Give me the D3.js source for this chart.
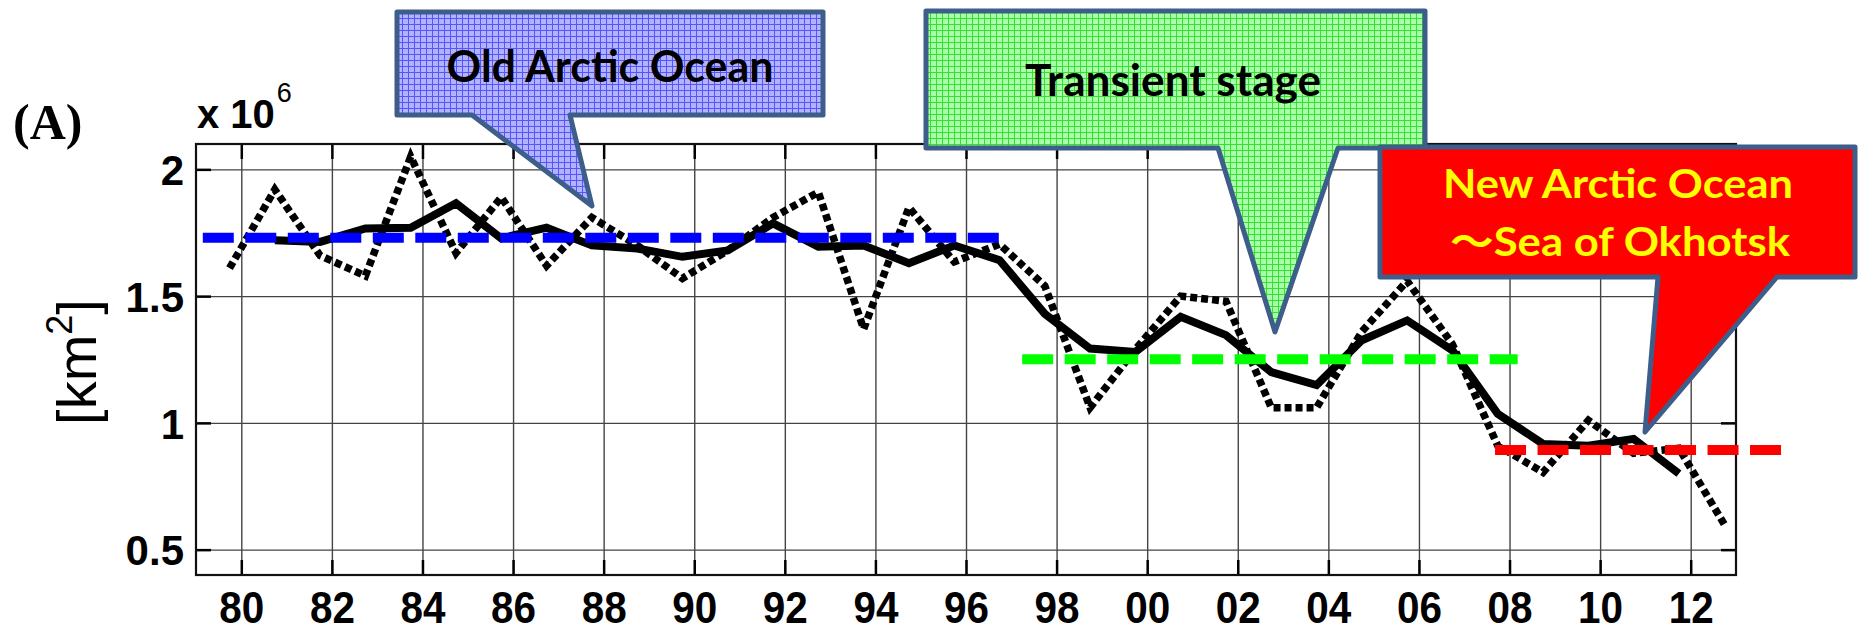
<!DOCTYPE html>
<html>
<head>
<meta charset="utf-8">
<script src="https://cdn.jsdelivr.net/npm/d3@7"></script>
<style>
  body { margin: 0; background: #fff; }
  svg { display: block; }
</style>
</head>
<body>
<script>
var w = 1862;
var h = 636;
var margin = {top: 144, right: 126, bottom: 61, left: 196};

// annual values, x 10^6 km2
var years = [1980, 1981, 1982, 1983, 1984, 1985, 1986, 1987, 1988, 1989,
             1990, 1991, 1992, 1993, 1994, 1995, 1996, 1997, 1998, 1999,
             2000, 2001, 2002, 2003, 2004, 2005, 2006, 2007, 2008, 2009,
             2010, 2011, 2012, 2013];
var annual = [1.61, 1.92, 1.66, 1.58, 2.05, 1.67, 1.89, 1.62, 1.81, 1.70,
              1.57, 1.68, 1.81, 1.91, 1.37, 1.85, 1.635, 1.705, 1.54, 1.06,
              1.29, 1.50, 1.48, 1.06, 1.06, 1.36, 1.56, 1.31, 0.91, 0.805,
              1.01, 0.88, 0.90, 0.60];

// 3-year running mean, as drawn
var meanYears = [1981, 1982, 1983, 1984, 1985, 1986, 1987, 1988, 1989, 1990,
                 1991, 1992, 1993, 1994, 1995, 1996, 1997, 1998, 1999, 2000,
                 2001, 2002, 2003, 2004, 2005, 2006, 2007, 2008, 2009, 2010,
                 2011, 2012];
var runMean = [1.72, 1.714, 1.767, 1.77, 1.866, 1.728, 1.77, 1.70, 1.688, 1.655,
               1.68, 1.787, 1.695, 1.70, 1.63, 1.70, 1.642, 1.43, 1.293, 1.28,
               1.418, 1.346, 1.20, 1.149, 1.326, 1.404, 1.286, 1.036, 0.917, 0.91,
               0.937, 0.80];

// stage means (old / transient / new)
var stageStart = [1979.15, 1997.24, 2007.68];
var stageEnd = [1996.8, 2008.18, 2014.03];
var stageMean = [1.73, 1.251, 0.893];

var xTicks = [1980, 1982, 1984, 1986, 1988, 1990, 1992, 1994, 1996,
              1998, 2000, 2002, 2004, 2006, 2008, 2010, 2012];
var yTicks = [0.5, 1, 1.5, 2];

var stageColor = ["#0000ff", "#00ff00", "#ff0000"];
// the annual points sit a bit left of the year line in the original
var shift = -0.26;

var pw = w - margin.left - margin.right;
var ph = h - margin.top - margin.bottom;

var x = d3.scaleLinear().domain([1979, 2013]).range([0, pw]);
var y = d3.scaleLinear().domain([0.4, 2.1]).range([ph, 0]);

var svg = d3.select("body").append("svg").attr("width", w).attr("height", h);
svg.append("rect").attr("width", w).attr("height", h).attr("fill", "#fff");

var defs = svg.append("defs");
function hatch(id, base, line) {
  var p = defs.append("pattern").attr("id", id)
    .attr("patternUnits", "userSpaceOnUse").attr("width", 6).attr("height", 6);
  p.append("rect").attr("width", 6).attr("height", 6).attr("fill", base);
  p.append("path").attr("d", "M0,0.5H6M0.5,0V6")
    .attr("stroke", line).attr("stroke-width", 1).attr("fill", "none");
}
hatch("blueHatch", "#b2b2ff", "#5555ff");
hatch("greenHatch", "#a8ffa8", "#33e033");

var g = svg.append("g").attr("transform", "translate(" + margin.left + "," + margin.top + ")");

// grid
g.append("g").attr("class", "grid")
  .call(d3.axisBottom(x).tickValues(xTicks).tickSize(ph).tickFormat(""))
  .call(function(s) { s.select(".domain").remove(); })
  .selectAll("line").attr("stroke", "#444").attr("stroke-width", 1.4);
g.append("g").attr("class", "grid")
  .call(d3.axisLeft(y).tickValues(yTicks).tickSize(-pw).tickFormat(""))
  .call(function(s) { s.select(".domain").remove(); })
  .selectAll("line").attr("stroke", "#444").attr("stroke-width", 1.4);

// axes with inward ticks
var fontAxis = "'Liberation Sans', Arial, sans-serif";

var xAxis = g.append("g").attr("transform", "translate(0," + ph + ")")
  .call(d3.axisBottom(x).tickValues(xTicks).tickSize(-15).tickPadding(17)
    .tickFormat(function(d) { return String(d).slice(2); }));
xAxis.selectAll("text")
  .attr("font-family", fontAxis).attr("font-size", 44).attr("font-weight", "bold")
  .attr("fill", "#000").attr("textLength", 45).attr("lengthAdjust", "spacingAndGlyphs");

var yAxis = g.append("g")
  .call(d3.axisLeft(y).tickValues(yTicks).tickSize(-15).tickPadding(12)
    .tickFormat(d3.format("~g")));
yAxis.selectAll("text")
  .attr("font-family", fontAxis).attr("font-size", 42).attr("font-weight", "bold")
  .attr("fill", "#000").attr("dy", "0.36em");

g.append("g")
  .call(d3.axisTop(x).tickValues(xTicks).tickSize(-15).tickFormat(""));
g.append("g").attr("transform", "translate(" + pw + ",0)")
  .call(d3.axisRight(y).tickValues(yTicks).tickSize(-15).tickFormat(""));

g.selectAll(".domain").remove();
g.selectAll(".tick line").filter(function() { return this.parentNode.parentNode.getAttribute("class") !== "grid"; })
  .attr("stroke", "#000").attr("stroke-width", 2.5);

g.append("rect").attr("width", pw).attr("height", ph)
  .attr("fill", "none").attr("stroke", "#111").attr("stroke-width", 2.2);

// series
var dotted = d3.line()
  .x(function(d, i) { return x(years[i] + shift); })
  .y(function(d) { return y(d); });
g.append("path").datum(annual)
  .attr("d", dotted)
  .attr("fill", "none").attr("stroke", "#000").attr("stroke-width", 7.5)
  .attr("stroke-dasharray", "7,4");

var solid = d3.line()
  .x(function(d, i) { return x(meanYears[i] + shift); })
  .y(function(d) { return y(d); });
g.append("path").datum(runMean)
  .attr("d", solid)
  .attr("fill", "none").attr("stroke", "#000").attr("stroke-width", 8)
  .attr("stroke-linejoin", "miter");

g.selectAll(".stage")
  .data(stageMean)
  .enter().append("line")
  .attr("class", "stage")
  .attr("x1", function(d, i) { return x(stageStart[i]); })
  .attr("x2", function(d, i) { return x(stageEnd[i]); })
  .attr("y1", function(d) { return y(d); })
  .attr("y2", function(d) { return y(d); })
  .attr("stroke", function(d, i) { return stageColor[i]; })
  .attr("stroke-width", 10)
  .attr("stroke-dasharray", "31,11.5");

// labels
svg.append("text").attr("x", 13).attr("y", 139)
  .attr("font-family", "'Liberation Serif', 'Times New Roman', serif")
  .attr("font-weight", "bold").attr("font-size", 50).text("(A)");

var mult = svg.append("text").attr("x", 197).attr("y", 128)
  .attr("font-family", fontAxis).attr("font-size", 40).attr("font-weight", "bold");
mult.append("tspan").text("x 10");
mult.append("tspan").attr("font-size", 27).attr("font-weight", "normal")
  .attr("dy", -26).attr("dx", 2).text("6");

var ylab = svg.append("text")
  .attr("transform", "translate(96,362) rotate(-90)")
  .attr("text-anchor", "middle")
  .attr("font-family", fontAxis).attr("font-size", 56);
ylab.append("tspan").text("[km");
ylab.append("tspan").attr("font-size", 36).attr("dy", -24).text("2");
ylab.append("tspan").attr("dy", 24).text("]");

// callouts
var boxFont = "Lato, 'Noto Sans CJK JP', sans-serif";
function callout(b) {
  return "M" + b.x0 + "," + b.y0 + "H" + b.x1 + "V" + b.y1 + "H" + b.t1 +
    "L" + b.tx + "," + b.ty + "L" + b.t0 + "," + b.y1 + "H" + b.x0 + "Z";
}
var callouts = [
  {x0: 397, x1: 823, y0: 12, y1: 115, t0: 472, t1: 570, tx: 592, ty: 206, fill: "url(#blueHatch)"},
  {x0: 926, x1: 1425, y0: 11, y1: 148, t0: 1218, t1: 1338, tx: 1275, ty: 332, fill: "url(#greenHatch)"},
  {x0: 1380, x1: 1855, y0: 147, y1: 277, t0: 1658, t1: 1777, tx: 1645, ty: 432, fill: "#ff0000"}
];
svg.selectAll(".callout")
  .data(callouts)
  .enter().append("path")
  .attr("class", "callout")
  .attr("d", callout)
  .attr("fill", function(d) { return d.fill; })
  .attr("stroke", "#3d5d8a").attr("stroke-width", 5)
  .attr("stroke-linejoin", "round");

var boxText = [
  {t: "Old Arctic Ocean", cx: 610, y: 82, size: 44, len: 327, color: "#000"},
  {t: "Transient stage", cx: 1173, y: 96, size: 43, len: 296, color: "#000"},
  {t: "New Arctic Ocean", cx: 1618, y: 198, size: 40, len: 350, color: "#ffff00"},
  {t: "～Sea of Okhotsk", cx: 1620, y: 256, size: 40, len: 340, color: "#ffff00"}
];
svg.selectAll(".boxText")
  .data(boxText)
  .enter().append("text")
  .attr("class", "boxText")
  .attr("x", function(d) { return d.cx - d.len / 2; })
  .attr("y", function(d) { return d.y; })
  .attr("font-family", boxFont).attr("font-weight", "bold")
  .attr("font-size", function(d) { return d.size; })
  .attr("textLength", function(d) { return d.len; })
  .attr("lengthAdjust", "spacingAndGlyphs")
  .attr("fill", function(d) { return d.color; })
  .text(function(d) { return d.t; });
</script>
</body>
</html>
